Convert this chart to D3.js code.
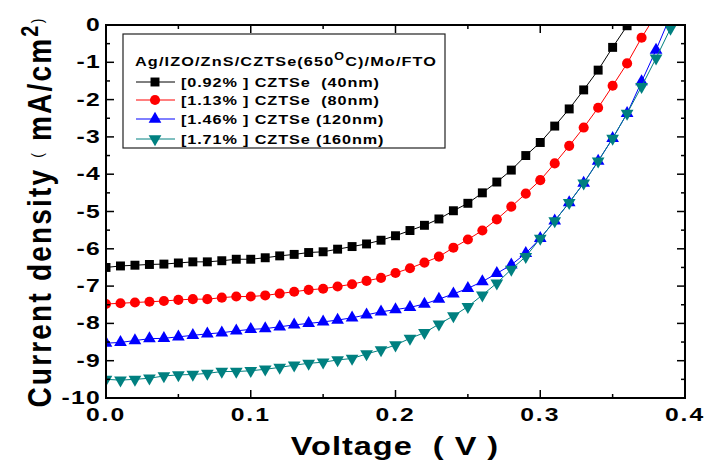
<!DOCTYPE html>
<html><head><meta charset="utf-8">
<script src="https://cdn.jsdelivr.net/npm/d3@7"></script>
<style>body{margin:0;background:#fff}svg{display:block}text{font-family:"Liberation Sans",Arial,sans-serif}</style>
</head><body><svg id="c" width="724" height="464"></svg>
<script>
const voltage = [0,0.01,0.02,0.03,0.04,0.05,0.06,0.07,0.08,0.09,0.10,0.11,0.12,0.13,0.14,0.15,0.16,0.17,0.18,0.19,0.20,0.21,0.22,0.23,0.24,0.25,0.26,0.27,0.28,0.29,0.30,0.31,0.32,0.33,0.34,0.35,0.36,0.37,0.38,0.39];
const j40nm  = [-6.50,-6.46,-6.44,-6.42,-6.41,-6.38,-6.35,-6.35,-6.32,-6.28,-6.28,-6.24,-6.19,-6.15,-6.10,-6.08,-6.01,-5.94,-5.87,-5.77,-5.65,-5.51,-5.37,-5.20,-4.98,-4.78,-4.50,-4.21,-3.89,-3.50,-3.15,-2.71,-2.25,-1.74,-1.21,-0.60,-0.02];
const j80nm  = [-7.48,-7.46,-7.44,-7.42,-7.40,-7.37,-7.35,-7.35,-7.31,-7.28,-7.28,-7.25,-7.20,-7.15,-7.10,-7.07,-7.01,-6.95,-6.86,-6.78,-6.65,-6.52,-6.37,-6.21,-5.97,-5.75,-5.51,-5.21,-4.87,-4.52,-4.16,-3.71,-3.24,-2.75,-2.22,-1.63,-1.03,-0.34,0.28];
const j120nm = [-8.53,-8.51,-8.46,-8.41,-8.40,-8.36,-8.32,-8.28,-8.25,-8.20,-8.16,-8.14,-8.09,-8.04,-8.00,-7.96,-7.91,-7.85,-7.77,-7.69,-7.63,-7.57,-7.48,-7.35,-7.21,-7.06,-6.88,-6.66,-6.43,-6.12,-5.72,-5.25,-4.76,-4.24,-3.65,-3.04,-2.37,-1.52,-0.67,0.25];
const j160nm = [-9.50,-9.52,-9.50,-9.47,-9.41,-9.38,-9.37,-9.34,-9.29,-9.29,-9.27,-9.23,-9.18,-9.12,-9.07,-9.04,-8.98,-8.94,-8.82,-8.71,-8.58,-8.40,-8.25,-8.02,-7.80,-7.55,-7.24,-6.92,-6.55,-6.21,-5.72,-5.25,-4.76,-4.24,-3.65,-3.04,-2.37,-1.65,-0.89,-0.09];
const seriesNames = ["[0.92% ] CZTSe  (40nm)","[1.13% ] CZTSe  (80nm)","[1.46% ] CZTSe (120nm)","[1.71% ] CZTSe (160nm)"];
const seriesColors = ["#000000","#ff0000","#0000ff","#008080"];
const seriesSymbols = ["square","circle","triangle","triangleDown"];
const legendTitle = "Ag/IZO/ZnS/CZTSe(650";
const xTicks = [0,0.1,0.2,0.3,0.4];
const xTickLabels = ["0.0","0.1","0.2","0.3","0.4"];
const yTicks = [0,-1,-2,-3,-4,-5,-6,-7,-8,-9,-10];

const svg = d3.select("#c");
const L=106,R=685,T=25,B=398;
const x = d3.scaleLinear().domain([0,0.4]).range([L,R]);
const y = d3.scaleLinear().domain([-10,0]).range([B,T]);

svg.append("clipPath").attr("id","clip").append("rect").attr("x",L).attr("y",T).attr("width",R-L).attr("height",B-T);

const allSeries=[j40nm,j80nm,j120nm,j160nm];
const symMap={square:d3.symbolSquare,circle:d3.symbolCircle,triangle:d3.symbolTriangle,triangleDown:d3.symbolTriangle};
const symSize={square:80,circle:80,triangle:70,triangleDown:70};
function sym(g,kind,color){
  const p=g.append("path").attr("d",d3.symbol().type(symMap[kind]).size(symSize[kind])()).attr("fill",color);
  return p;
}
function symTransform(kind,cx,cy){
  return kind==="triangleDown"?`translate(${cx},${cy}) rotate(180)`:`translate(${cx},${cy})`;
}
const plot=svg.append("g").attr("clip-path","url(#clip)");
allSeries.forEach((vals,i)=>{
  const pts=vals.map((v,k)=>[voltage[k],v]);
  plot.append("path").attr("d",d3.line().x(d=>x(d[0])).y(d=>y(d[1]))(pts))
    .attr("fill","none").attr("stroke",seriesColors[i]).attr("stroke-width",1);
  pts.forEach(d=>{
    sym(plot,seriesSymbols[i],seriesColors[i]).attr("transform",symTransform(seriesSymbols[i],x(d[0]),y(d[1])));
  });
});

// axes (inward ticks)
const axG=svg.append("g").attr("stroke","#000");
const xMinor=d3.range(0,0.401,0.05);
xMinor.forEach((v,i)=>{
  const len = i%2===0?8:4;
  axG.append("line").attr("x1",x(v)).attr("x2",x(v)).attr("y1",B).attr("y2",B-len).attr("stroke-width",1.5);
  axG.append("line").attr("x1",x(v)).attr("x2",x(v)).attr("y1",T).attr("y2",T+len).attr("stroke-width",1.5);
});
const yMinor=d3.range(0,-10.01,-0.5);
yMinor.forEach((v,i)=>{
  const len = i%2===0?8:4;
  axG.append("line").attr("x1",L).attr("x2",L+len).attr("y1",y(v)).attr("y2",y(v)).attr("stroke-width",1.5);
  axG.append("line").attr("x1",R).attr("x2",R-len).attr("y1",y(v)).attr("y2",y(v)).attr("stroke-width",1.5);
});
svg.append("rect").attr("x",L).attr("y",T).attr("width",R-L).attr("height",B-T).attr("fill","none").attr("stroke","#000").attr("stroke-width",2);

function stext(px,py,sx,str,size,anchor,ls){
  const g=svg.append("g").attr("transform",`translate(${px},${py}) scale(${sx},1)`);
  return g.append("text").attr("text-anchor",anchor).attr("font-size",size).attr("font-weight","bold")
    .attr("letter-spacing",ls||0).style("white-space","pre").text(str);
}
xTicks.forEach((v,i)=>stext(x(v),421,1.3,xTickLabels[i],19,"middle",1.5));
yTicks.forEach(v=>stext(101,y(v)+6,1.3,String(v),19,"end",1));

// x title
stext(395,455,1.25,"Voltage  ( V )",26,"middle",0.8);

// y title
const yt=svg.append("g").attr("transform","translate(51,212) scale(1.2,1) rotate(-90)")
  .append("text").attr("text-anchor","middle").attr("font-weight","bold").attr("font-size",28).attr("letter-spacing",2.2).style("white-space","pre");
yt.append("tspan").text("Current density ");
yt.append("tspan").attr("font-size",14).attr("font-weight","normal").attr("dy",-7).text("(");
yt.append("tspan").attr("dy",7).text(" mA/cm");
yt.append("tspan").attr("font-size",20).attr("dy",-11).text("2");
yt.append("tspan").attr("font-size",14).attr("font-weight","normal").attr("dy",4).text(")");

// legend
svg.append("rect").attr("x",123).attr("y",34).attr("width",322).attr("height",114).attr("fill","#fff").attr("stroke","#222").attr("stroke-width",1.2);
const lt=stext(135,66,1.25,legendTitle,13,"start",0.9);
lt.append("tspan").attr("font-size",10).attr("dy",-6).text("O");
lt.append("tspan").attr("dy",6).text("C)/Mo/FTO");
const legY=[82,100,119,139];
seriesNames.forEach((n,i)=>{
  svg.append("line").attr("x1",136).attr("x2",175).attr("y1",legY[i]).attr("y2",legY[i]).attr("stroke",seriesColors[i]).attr("stroke-width",1);
  sym(svg,seriesSymbols[i],seriesColors[i]).attr("transform",symTransform(seriesSymbols[i],155,legY[i]));
  stext(181,legY[i]+5,1.25,n,13,"start",0.7);
});
</script></body></html>
